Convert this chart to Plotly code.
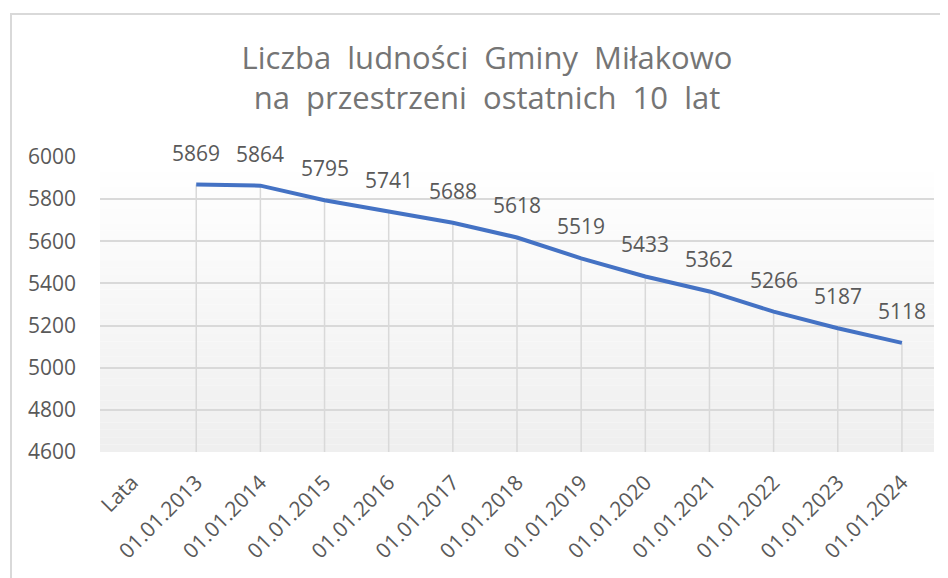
import plotly.graph_objects as go

categories = ["Lata", "01.01.2013", "01.01.2014", "01.01.2015", "01.01.2016", "01.01.2017",
              "01.01.2018", "01.01.2019", "01.01.2020", "01.01.2021", "01.01.2022",
              "01.01.2023", "01.01.2024"]
dates = categories[1:]
population = [5869, 5864, 5795, 5741, 5688, 5618, 5519, 5433, 5362, 5266, 5187, 5118]
y_ticks = [4600, 4800, 5000, 5200, 5400, 5600, 5800, 6000]
title_text = "Liczba  ludności  Gminy  Miłakowo<br>na  przestrzeni  ostatnich  10  lat"

Y_MIN, Y_MAX = 4600, 6000
FONT = "Open Sans"
TXT = "#595959"
GRID = "#d9d9d9"

# page has an 8px body margin; figure is sized to compensate
W, H = 940, 570

fig = go.Figure()

# drop lines
dx, dy = [], []
for c, v in zip(dates, population):
    dx += [c, c, None]
    dy += [Y_MIN, v, None]
fig.add_trace(go.Scatter(x=dx, y=dy, mode="lines", line=dict(color=GRID, width=1.5),
                         hoverinfo="skip", showlegend=False))

fig.add_trace(go.Scatter(x=dates, y=population, mode="lines",
                         line=dict(color="#4472C4", width=4, shape="linear"),
                         showlegend=False))

for c, v in zip(dates, population):
    fig.add_annotation(x=c, y=v, text=str(v), showarrow=False, yshift=32,
                       font=dict(family=FONT, size=21, color=TXT))

# gradient background
n = 40
shapes = []
for i in range(n):
    y0 = Y_MIN + (Y_MAX - Y_MIN) * i / n
    y1 = Y_MIN + (Y_MAX - Y_MIN) * (i + 1) / n
    t = i / (n - 1)
    g = int(round(0xef + (0xff - 0xef) * t))
    shapes.append(dict(type="rect", xref="paper", yref="y", x0=0, x1=1, y0=y0, y1=y1,
                       fillcolor=f"rgb({g},{g},{g})", line=dict(width=0), layer="below"))
# outer chart border
shapes.append(dict(type="rect", xref="paper", yref="paper",
                   x0=(11 - 100) / 834, x1=1.2, y0=-0.6, y1=1 + (157 - 14) / 295,
                   line=dict(color="#d9d9d9", width=2), fillcolor="rgba(0,0,0,0)", layer="below"))

fig.update_layout(
    width=W, height=H,
    margin=dict(l=92, r=14, t=149, b=126, autoexpand=False),
    paper_bgcolor="white", plot_bgcolor="white",
    shapes=shapes,
    title=dict(text=title_text, x=(487 - 8) / W, xanchor="center",
               y=1 - 61 / H, yanchor="top",
               font=dict(family=FONT, size=31, color="#757575")),
    xaxis=dict(type="category", categoryorder="array", categoryarray=categories,
               range=[-0.5, 12.5], showgrid=False, showline=False, ticks="",
               tickangle=-45, tickfont=dict(family=FONT, size=21, color=TXT),
               ticklabelstandoff=13, automargin=False),
    yaxis=dict(range=[Y_MIN, Y_MAX], tickvals=y_ticks, showgrid=True, gridcolor=GRID,
               gridwidth=1.5, zeroline=False, showline=False, ticks="",
               tickfont=dict(family=FONT, size=21, color=TXT), ticklabelstandoff=23,
               automargin=False),
)
fig.update_xaxes(tickvals=categories, ticktext=categories)

fig.write_html("out.html")
